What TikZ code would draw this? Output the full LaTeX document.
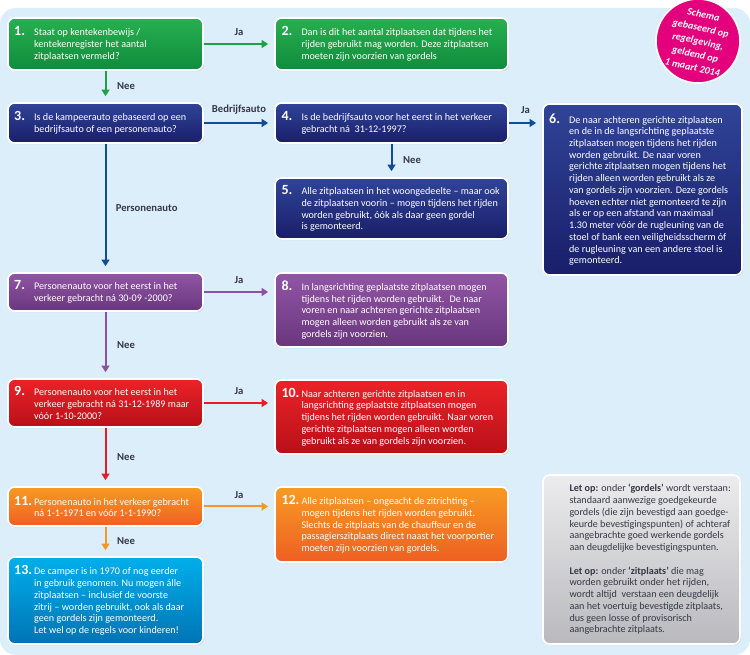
\documentclass[tikz,border=0pt]{standalone}
\usepackage{fontspec}
\setmainfont{Carlito}
\usetikzlibrary{arrows.meta,shadows}

\definecolor{bgblue}{RGB}{219,238,250}
\definecolor{greenT}{RGB}{40,175,80}
\definecolor{greenB}{RGB}{15,140,60}
\definecolor{blueT}{RGB}{48,68,152}
\definecolor{blueB}{RGB}{25,30,105}
\definecolor{purpT}{RGB}{145,85,165}
\definecolor{purpB}{RGB}{105,55,125}
\definecolor{redT}{RGB}{235,35,40}
\definecolor{redB}{RGB}{185,15,25}
\definecolor{oranT}{RGB}{248,155,35}
\definecolor{oranB}{RGB}{238,95,35}
\definecolor{cyanT}{RGB}{0,175,235}
\definecolor{cyanB}{RGB}{0,115,180}
\definecolor{grayT}{RGB}{236,236,238}
\definecolor{grayB}{RGB}{185,185,190}
\definecolor{notetext}{RGB}{55,55,70}
\definecolor{lblgray}{RGB}{55,55,70}
\definecolor{garrow}{RGB}{30,160,70}
\definecolor{barrow}{RGB}{20,75,150}
\definecolor{parrow}{RGB}{140,80,165}
\definecolor{rarrow}{RGB}{228,30,40}
\definecolor{oarrow}{RGB}{245,150,40}
\definecolor{stampmag}{RGB}{228,0,124}

\newcommand{\boxfont}{\fontsize{7.6}{8.8}\selectfont}
% number in front, text hanging behind it
\newcommand{\boxtext}[3]{\makebox[15pt][l]{\fontsize{10.5}{10}\selectfont\bfseries #1}\parbox[t]{#2}{\raggedright #3}}

\tikzset{
  flowbox/.style={rounded corners=5pt, draw=white, line width=1.2pt,
    inner xsep=4.5pt, inner ysep=2pt, text=white, font=\boxfont,
    drop shadow={shadow xshift=0.8pt, shadow yshift=-0.8pt, opacity=0.25}},
  greenbox/.style={flowbox, top color=greenT, bottom color=greenB},
  bluebox/.style={flowbox, top color=blueT, bottom color=blueB},
  purplebox/.style={flowbox, top color=purpT, bottom color=purpB},
  redbox/.style={flowbox, top color=redT, bottom color=redB},
  orangebox/.style={flowbox, top color=oranT, bottom color=oranB},
  cyanbox/.style={flowbox, top color=cyanT, bottom color=cyanB},
  graybox/.style={flowbox, top color=grayT, bottom color=grayB, text=notetext},
  leftcol/.style={minimum width=146.25pt},
  midcol/.style={minimum width=174.75pt},
  rightcol/.style={minimum width=149.25pt},
  flowarrow/.style={line width=1.5pt, -{Triangle[length=5pt,width=6pt]}, shorten >=4.5pt},
  lbl/.style={font=\fontsize{8}{9}\selectfont\bfseries, text=lblgray, inner sep=1pt}
}

\begin{document}
\begin{tikzpicture}[x=0.75pt,y=-0.75pt]
\useasboundingbox (0,0) rectangle (750,655);
\fill[bgblue, rounded corners=12pt] (0,8) rectangle (750,655);

% left column
\node[greenbox, leftcol, minimum height=39pt] (box1) at (105.5,44)
  {\boxtext{1.}{122pt}{Staat op kentekenbewijs /\\kentekenregister het aantal\\zitplaatsen vermeld?}};
\node[bluebox, leftcol, minimum height=30pt] (box3) at (105.5,123)
  {\boxtext{3.}{122pt}{Is de kampeerauto gebaseerd op een\\bedrijfsauto of een personenauto?}};
\node[purplebox, leftcol, minimum height=28.5pt] (box7) at (105.5,292)
  {\boxtext{7.}{122pt}{Personenauto voor het eerst in het\\verkeer gebracht ná 30-09 -2000?}};
\node[redbox, leftcol, minimum height=36pt] (box9) at (105.5,403)
  {\boxtext{9.}{122pt}{Personenauto voor het eerst in het\\verkeer gebracht ná 31-12-1989 maar\\vóór 1-10-2000?}};
\node[orangebox, leftcol, minimum height=29.25pt] (box11) at (105.5,506.5)
  {\boxtext{11.}{122pt}{Personenauto in het verkeer gebracht\\ná 1-1-1971 en vóór 1-1-1990?}};
\node[cyanbox, leftcol, minimum height=65.25pt] (box13) at (105.5,600.5)
  {\boxtext{13.}{122pt}{De camper is in 1970 of nog eerder\\in gebruik genomen. Nu mogen álle\\zitplaatsen – inclusief de voorste\\zitrij – worden gebruikt, ook als daar\\geen gordels zijn gemonteerd.\\Let wel op de regels voor kinderen!}};

% middle column
\node[greenbox, midcol, minimum height=39pt] (box2) at (391.5,44)
  {\boxtext{2.}{150pt}{Dan is dit het aantal zitplaatsen dat tijdens het\\rijden gebruikt mag worden. Deze zitplaatsen\\moeten zijn voorzien van gordels}};
\node[bluebox, midcol, minimum height=30pt] (box4) at (391.5,123)
  {\boxtext{4.}{150pt}{Is de bedrijfsauto voor het eerst in het verkeer\\gebracht ná~ 31-12-1997?}};
\node[bluebox, midcol, minimum height=45.75pt] (box5) at (391.5,208.5)
  {\boxtext{5.}{150pt}{Alle zitplaatsen in het woongedeelte – maar ook\\de zitplaatsen voorin – mogen tijdens het rijden\\worden gebruikt, óók als daar geen gordel\\is gemonteerd.}};
\node[purplebox, midcol, minimum height=55.5pt] (box8) at (391.5,310)
  {\boxtext{8.}{150pt}{In langsrichting geplaatste zitplaatsen mogen\\tijdens het rijden worden gebruikt.~ De naar\\voren en naar achteren gerichte zitplaatsen\\mogen alleen worden gebruikt als ze van\\gordels zijn voorzien.}};
\node[redbox, midcol, minimum height=55.5pt] (box10) at (391.5,417)
  {\boxtext{10.}{150pt}{Naar achteren gerichte zitplaatsen en in\\langsrichting geplaatste zitplaatsen mogen\\tijdens het rijden worden gebruikt. Naar voren\\gerichte zitplaatsen mogen alleen worden\\gebruikt als ze van gordels zijn voorzien.}};
\node[orangebox, midcol, minimum height=56.25pt] (box12) at (391.5,524.5)
  {\boxtext{12.}{150pt}{Alle zitplaatsen – ongeacht de zitrichting –\\mogen tijdens het rijden worden gebruikt.\\Slechts de zitplaats van de chauffeur en de\\passagierszitplaats direct naast het voorportier\\moeten zijn voorzien van gordels.}};

% right column
\node[bluebox, rightcol, minimum height=128.25pt] (box6) at (642.5,189.5)
  {\boxtext{6.}{125pt}{De naar achteren gerichte zitplaatsen\\en de in de langsrichting geplaatste\\zitplaatsen mogen tijdens het rijden\\worden gebruikt. De naar voren\\gerichte zitplaatsen mogen tijdens het\\rijden alleen worden gebruikt als ze\\van gordels zijn voorzien. Deze gordels\\hoeven echter niet gemonteerd te zijn\\als er op een afstand van maximaal\\1.30 meter vóór de rugleuning van de\\stoel of bank een veiligheidsscherm óf\\de rugleuning van een andere stoel is\\gemonteerd.}};
\node[graybox, minimum width=147.75pt, minimum height=126.75pt] (notebox) at (641.5,559.5)
  {\boxtext{}{123pt}{\textbf{Let op:} onder \textbf{`gordels'} wordt verstaan:\\standaard aanwezige goedgekeurde\\gordels (die zijn bevestigd aan goedge-\\keurde bevestigingspunten) of achteraf\\aangebrachte goed werkende gordels\\aan deugdelijke bevestigingspunten.\\[8.8pt]\textbf{Let op:} onder \textbf{`zitplaats'} die mag\\worden gebruikt onder het rijden,\\wordt altijd~ verstaan een deugdelijk\\aan het voertuig bevestigde zitplaats,\\dus geen losse of provisorisch\\aangebrachte zitplaats.}};

% stamp
\node[circle, fill=stampmag, draw=white, line width=1.2pt, minimum size=63pt, inner sep=0pt,
  text=white, align=center, font=\fontsize{7.6}{10}\selectfont\bfseries\itshape, rotate=-12]
  (stamp) at (698,41) {Schema\\gebaseerd op\\regelgeving,\\geldend op\\1 maart 2014};

% connectors
\draw[flowarrow, garrow] (box1.east) -- (box1.east -| box2.west) node[midway, above=4.5pt, lbl] {Ja};
\draw[flowarrow, garrow] (box1.south) -- (box3.north) node[midway, right=7pt, lbl] {Nee};
\draw[flowarrow, barrow] (box3.east) -- (box4.west) node[midway, above=5pt, lbl] {Bedrijfsauto};
\draw[flowarrow, barrow] (box4.east) -- (box4.east -| box6.west) node[midway, above=5pt, lbl] {Ja};
\draw[flowarrow, barrow] (box4.south) -- (box5.north) node[midway, right=7pt, lbl] {Nee};
\draw[flowarrow, barrow] (box3.south) -- (box7.north) node[midway, right=6pt, lbl] {Personenauto};
\draw[flowarrow, parrow] (box7.east) -- (box7.east -| box8.west) node[midway, above=4.5pt, lbl] {Ja};
\draw[flowarrow, parrow] (box7.south) -- (box9.north) node[midway, right=7pt, lbl] {Nee};
\draw[flowarrow, rarrow] (box9.east) -- (box9.east -| box10.west) node[midway, above=4.5pt, lbl] {Ja};
\draw[flowarrow, rarrow] (box9.south) -- (box11.north) node[midway, right=7pt, lbl] {Nee};
\draw[flowarrow, oarrow] (box11.east) -- (box11.east -| box12.west) node[midway, above=4.5pt, lbl] {Ja};
\draw[flowarrow, oarrow] (box11.south) -- (box13.north) node[midway, right=7pt, lbl] {Nee};
\end{tikzpicture}
\end{document}
